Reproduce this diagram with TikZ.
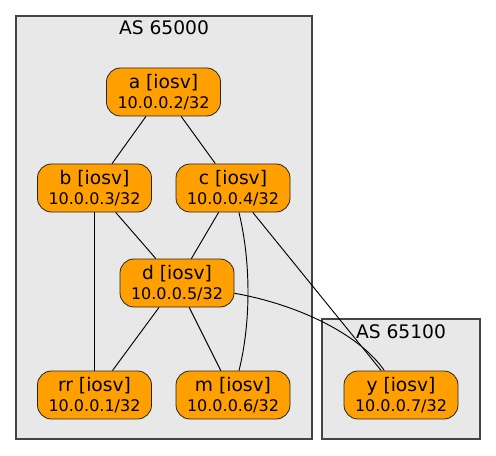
\documentclass[tikz,border=0pt]{standalone}
\usepackage{fontspec}
\setmainfont{DejaVu Sans}
\definecolor{nodeorange}{HTML}{FFA000}
\definecolor{clusterfill}{HTML}{E8E8E8}
\definecolor{clusterline}{HTML}{444444}
\begin{document}
\begin{tikzpicture}[x=0.75pt,y=-0.75pt,
  router/.style={draw=black!85, fill=nodeorange, rounded corners=10.5pt,
    minimum width=85.5pt, minimum height=36pt, inner sep=0pt, align=center,
    line width=0.6pt},
  cluster/.style={draw=clusterline, fill=clusterfill, line width=0.9pt},
  clabel/.style={font=\fontsize{14}{16}\selectfont, anchor=base, inner sep=0pt},
  link/.style={draw=black, line width=0.7pt}]
\useasboundingbox (0,0) rectangle (496,456);
\newcommand{\rlabel}[2]{{\fontsize{14}{16.5}\selectfont #1}\\[3.5pt]{\fontsize{12}{16.5}\selectfont #2}}
% clusters
\draw[cluster] (16,16) rectangle (312,439);
\draw[cluster] (322,319) rectangle (480,439);
\node[clabel] (l1) at (164,35) {AS 65000};
\node[clabel] (l2) at (401,338) {AS 65100};
% nodes
\node[router] (a) at (163.5,92) {\rlabel{a [iosv]}{10.0.0.2/32}};
\node[router] (b) at (94.5,188) {\rlabel{b [iosv]}{10.0.0.3/32}};
\node[router] (c) at (233,188) {\rlabel{c [iosv]}{10.0.0.4/32}};
\node[router] (d) at (177,283) {\rlabel{d [iosv]}{10.0.0.5/32}};
\node[router] (rr) at (94.5,395) {\rlabel{rr [iosv]}{10.0.0.1/32}};
\node[router] (m) at (233,395) {\rlabel{m [iosv]}{10.0.0.6/32}};
\node[router] (y) at (401,395) {\rlabel{y [iosv]}{10.0.0.7/32}};
% links
\path[link] (a) -- (b);
\path[link] (a) -- (c);
\path[link] (b) -- (d);
\path[link] (c) -- (d);
\path[link] (b) -- (rr);
\path[link] (c) .. controls (251,262) and (251,322) .. (m);
\path[link] (c) -- (y);
\path[link] (d) .. controls (300,305) and (360,335) .. (y);
\path[link] (d) -- (rr);
\path[link] (d) -- (m);
\end{tikzpicture}
\end{document}
